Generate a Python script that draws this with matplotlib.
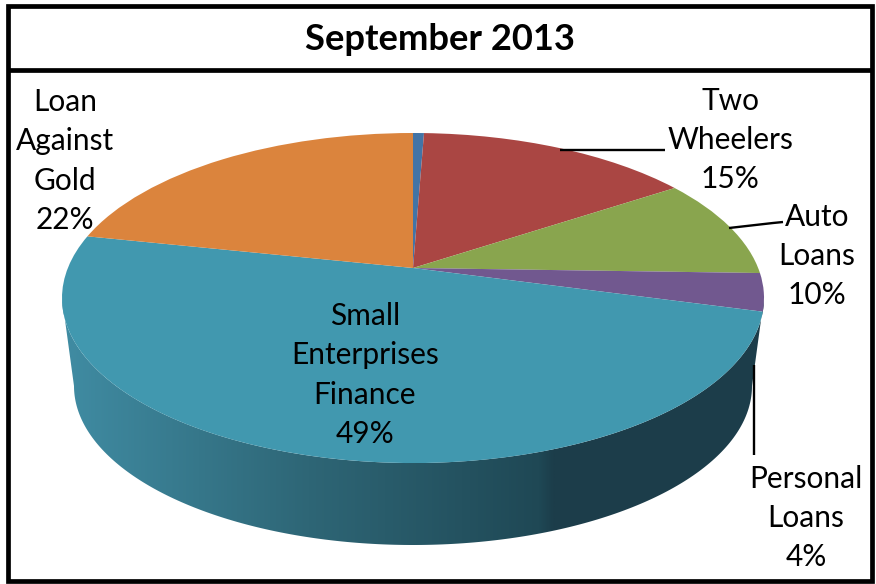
import numpy as np
import matplotlib
matplotlib.use("Agg")
import matplotlib.pyplot as plt
from matplotlib.colors import LinearSegmentedColormap
from matplotlib.patches import Polygon, Rectangle
from matplotlib.transforms import Transform

title = "September 2013"
slice_names = ["Other", "Two Wheelers", "Auto Loans", "Personal Loans",
               "Small Enterprises Finance", "Loan Against Gold"]
slice_values = [0.6, 15.1, 9.8, 3.7, 49.1, 21.7]
slice_colors = ["#4374A6", "#AA4643", "#89A54E", "#71588F", "#4198AF", "#DB843D"]
label_texts = ["Loan\nAgainst\nGold\n22%", "Two\nWheelers\n15%", "Auto\nLoans\n10%",
               "Small\nEnterprises\nFinance\n49%", "Personal\nLoans\n4%"]
label_xy = [(65, 161), (730, 140), (817, 256), (365, 375), (806, 518)]
leaders = [[(560, 150), (665, 150)],
           [(729, 228), (773, 223), (783, 222)],
           [(754, 365), (754, 455)]]
side_stops = [(0.0, "#408CA3"), (0.5, "#2E6676"), (0.97, "#1F4855"), (1.0, "#1C3D4A")]

HUB = (413, 268)
K = 60 / 330
B = 135 * (1 + K)
A = 351 * np.sqrt(1 - K ** 2)


class Perspective(Transform):
    input_dims = output_dims = 2
    is_separable = False
    has_inverse = False

    def transform_non_affine(self, values):
        v = np.asarray(values, float)
        w = 1 + K * v[:, 1]
        return np.column_stack((HUB[0] + A * v[:, 0] / w, HUB[1] - B * v[:, 1] / w))

    def transform_path_non_affine(self, path):
        p = path.interpolated(1)
        return type(path)(self.transform_non_affine(p.vertices), p.codes)


plt.rcParams["font.family"] = ["Lato", "DejaVu Sans"]
fig = plt.figure(figsize=(8.76, 5.84), dpi=100, facecolor="white")
ax = fig.add_axes([0, 0, 1, 1])

wedges, _ = ax.pie(slice_values, colors=slice_colors, startangle=90, counterclock=False,
                   wedgeprops={"linewidth": 0, "zorder": 3})
ax.set_aspect("auto")
ax.set_xlim(0, 876)
ax.set_ylim(584, 0)
ax.axis("off")
persp = Perspective()
for w in wedges:
    w.set_transform(persp + ax.transData)

# Rim of the pie: front half of the top ellipse joined to the smaller base ellipse
cx, cy, rx, ry = HUB[0], 298, 351, 165
base_cy, base_rx, base_ry = 386, 339, 159
t = np.linspace(0, np.pi, 200)
top_arc = np.column_stack((cx + rx * np.cos(t), cy + ry * np.sin(t)))
base_arc = np.column_stack((cx + base_rx * np.cos(t), base_cy + base_ry * np.sin(t)))
side = Polygon(np.vstack((top_arc, base_arc[::-1])), closed=True, facecolor="none",
               edgecolor="none", transform=ax.transData)
ax.add_patch(side)
cmap = LinearSegmentedColormap.from_list("side", side_stops)
im = ax.imshow(np.linspace(0, 1, 512)[None, :], cmap=cmap, aspect="auto",
               extent=(62, 555, 560, 290), zorder=1, interpolation="bilinear")
im.set_clip_path(side)
dark = Rectangle((555, 290), 215, 270, facecolor=side_stops[-1][1], edgecolor="none", zorder=1)
ax.add_patch(dark)
dark.set_clip_path(side)
ax.set_xlim(0, 876)
ax.set_ylim(584, 0)
ax.set_aspect("auto")

for pts in leaders:
    xs, ys = zip(*pts)
    ax.plot(xs, ys, color="black", lw=1.7, zorder=4, solid_capstyle="butt")

for text, (x, y) in zip(label_texts, label_xy):
    ax.text(x, y, text, ha="center", va="center", fontsize=21.5, linespacing=1.48,
            color="black", zorder=5)
ax.text(440, 40, title, ha="center", va="center", fontsize=26.2, fontweight="bold",
        color="black", zorder=5)

# Frame and title rule
ax.add_patch(Rectangle((8, 5.5), 863.5, 575.5, fill=False, edgecolor="black", lw=3.4, zorder=6))
ax.plot([8, 871.5], [69.5, 69.5], color="black", lw=3.4, zorder=6, solid_capstyle="butt")

fig.savefig("out.png", dpi=100, facecolor="white")
